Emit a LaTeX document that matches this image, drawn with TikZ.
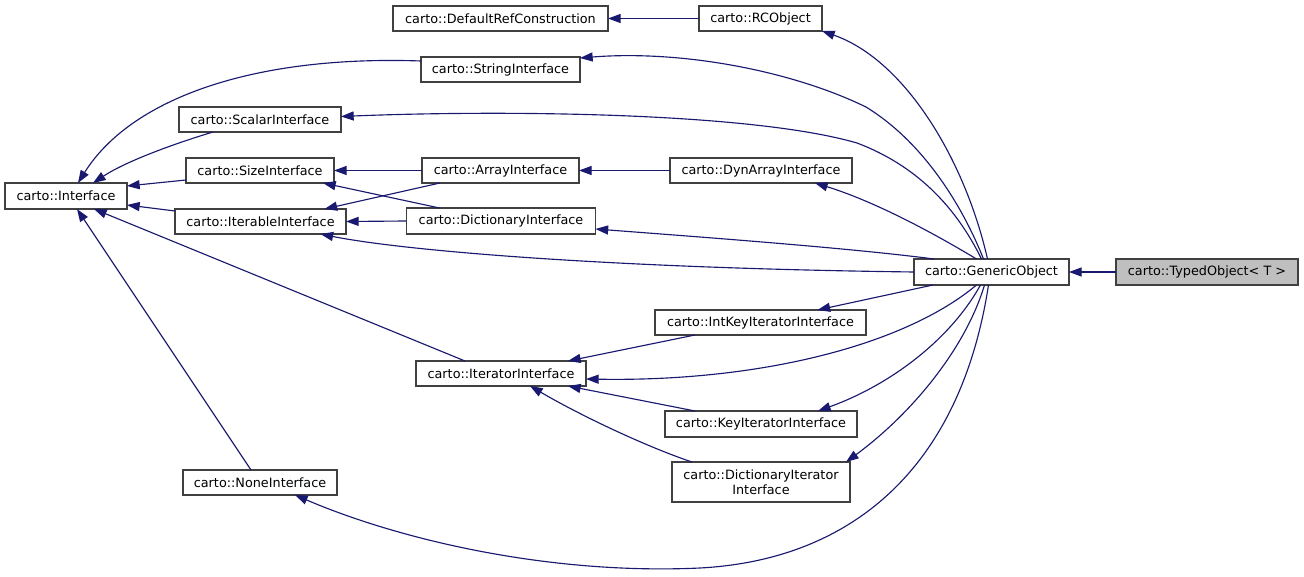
\documentclass[tikz,border=0pt]{standalone}
\usepackage{fontspec}
\setmainfont{DejaVu Sans}
\usetikzlibrary{arrows.meta,calc}
\definecolor{edgeblue}{HTML}{191970}
\definecolor{boxgray}{HTML}{404040}
\definecolor{hlgray}{HTML}{BFBFBF}
\begin{document}
\begin{tikzpicture}[x=0.75pt,y=-0.75pt,
  cls/.style={draw=boxgray, line width=1pt, fill=white, inner sep=0pt, outer sep=0pt,
    minimum height=18.75pt, font=\fontsize{9.6pt}{11pt}\selectfont, align=center},
  wd/.style={minimum width=#1*0.75pt},
  ht/.style={minimum height=#1*0.75pt},
  edge/.style={draw=edgeblue, line width=0.85pt, -{Triangle[length=9.5pt,width=6.8pt]}}]
\fill[white] (0,0) rectangle (1304,577);
\useasboundingbox (0,0) rectangle (1304,577);

\node[cls,wd=215] (drc) at (500.5,18.5) {carto::DefaultRefConstruction};
\node[cls,wd=123] (rco) at (760.5,18.5) {carto::RCObject};
\node[cls,wd=159] (str) at (500.5,69.5) {carto::StringInterface};
\node[cls,wd=162] (sca) at (260,119.5) {carto::ScalarInterface};
\node[cls,wd=148] (siz) at (260,170.5) {carto::SizeInterface};
\node[cls,wd=157] (arr) at (500.5,170.5) {carto::ArrayInterface};
\node[cls,wd=182] (dyn) at (761,170.5) {carto::DynArrayInterface};
\node[cls,wd=122,ht=26] (itf) at (66,196) {carto::Interface};
\node[cls,wd=171] (itb) at (260.5,221.5) {carto::IterableInterface};
\node[cls,wd=189,ht=26] (dic) at (501,221) {carto::DictionaryInterface};
\node[cls,wd=155,ht=26] (gen) at (991.5,272) {carto::GenericObject};
\node[cls,wd=182,ht=26,fill=hlgray] (typ) at (1207,272) {carto::TypedObject< T >};
\node[cls,wd=170] (iti) at (501,373.5) {carto::IteratorInterface};
\node[cls,wd=154] (non) at (260,482.5) {carto::NoneInterface};
\node[cls,wd=211] (iki) at (760.5,322.5) {carto::IntKeyIteratorInterface};
\node[cls,wd=192,ht=26] (kii) at (761,424) {carto::KeyIteratorInterface};
\node[cls,wd=178,ht=40] (dii) at (761,482) {carto::DictionaryIterator\\Interface};

% edges
\draw[edge] (rco.west) -- (drc.east);
\draw[edge] ($(gen.north)+(-4,0)$) .. controls (965,160) and (905,60) .. (rco.south east);
\draw[edge] ($(gen.north)+(-8,0)$) .. controls (960,200) and (920,140) .. (866,107)
  .. controls (790,70) and (680,50) .. ($(str.north east)+(0,1)$);
\draw[edge] ($(gen.north)+(-10,0)$) .. controls (955,205) and (915,165) .. (857,143)
  .. controls (750,112) and (500,110) .. ($(sca.east)+(0,-3)$);
\draw[edge] ($(gen.north)+(-15,0)$) .. controls (925,228) and (870,200) .. ($(dyn.south)+(54,0)$);
\draw[edge] ($(gen.north west)+(20,0)$) .. controls (850,248) and (700,237) .. ($(dic.east)+(0,8)$);
\draw[edge] (gen.west) .. controls (600,268) and (400,250) .. ($(itb.south)+(60,0)$);
\draw[edge] ($(gen.south west)+(19,0)$) -- ($(iki.north)+(57,0)$);
\draw[edge] ($(gen.south)+(-15,0)$) .. controls (905,345) and (760,382) .. ($(iti.east)+(0,5.5)$);
\draw[edge] ($(gen.south)+(-11,0)$) .. controls (950,340) and (890,385) .. ($(kii.north)+(57,0)$);
\draw[edge] ($(gen.south)+(-7,0)$) .. controls (965,350) and (910,415) .. ($(dii.north east)+(-4,0)$);
\draw[edge] ($(gen.south)+(-3,0)$) .. controls (960,470) and (850,560) .. (700,568)
  .. controls (550,575) and (400,540) .. ($(non.south)+(35,0)$);
\draw[edge] (typ.west) -- (gen.east);
\draw[edge] (dyn.west) -- (arr.east);
\draw[edge] (arr.west) -- (siz.east);
\draw[edge] ($(arr.south west)+(18,0)$) -- ($(itb.north)+(64,0)$);
\draw[edge] (dic.west) -- (itb.east);
\draw[edge] ($(dic.north west)+(33,0)$) -- ($(siz.south)+(63,0)$);
\draw[edge] ($(siz.south west)+(0,-3)$) -- ($(itf.north east)+(0,3)$);
\draw[edge] ($(itb.north west)+(0,2)$) -- ($(itf.south east)+(0,-4)$);
\draw[edge] ($(sca.south west)+(34,0)$) .. controls (170,145) and (125,162) .. ($(itf.north)+(27,0)$);
\draw[edge] ($(str.north west)+(0,4)$) .. controls (250,55) and (130,100) .. ($(itf.north)+(12,0)$);
\draw[edge] ($(iti.north west)+(49,0)$) -- ($(itf.south)+(28,0)$);
\draw[edge] ($(non.north)+(-9,0)$) -- ($(itf.south)+(11,0)$);
\draw[edge] ($(iki.south west)+(40,0)$) -- ($(iti.north east)+(-18,0)$);
\draw[edge] ($(kii.north west)+(30,0)$) -- ($(iti.south east)+(-18,0)$);
\draw[edge] ($(dii.north west)+(20,0)$) .. controls (650,448) and (585,418) .. ($(iti.south)+(29,0)$);
\end{tikzpicture}
\end{document}
